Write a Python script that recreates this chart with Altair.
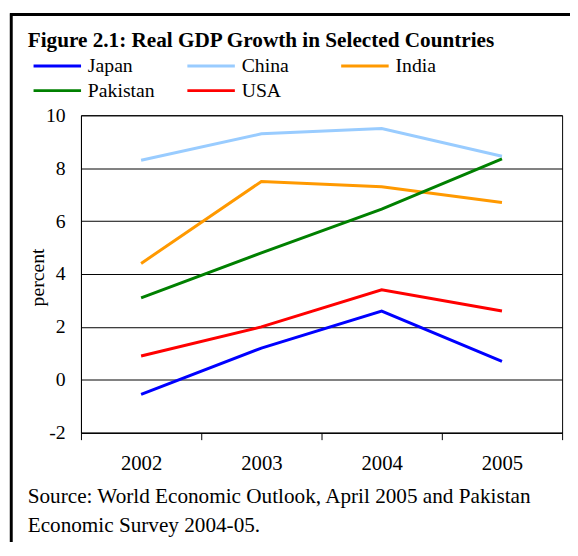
import altair as alt
import pandas as pd

years = ["2002", "2003", "2004", "2005"]
countries = ["Japan", "China", "India", "Pakistan", "USA"]
japan = [-0.55, 1.2, 2.6, 0.7]
china = [8.3, 9.3, 9.5, 8.45]
india = [4.4, 7.5, 7.3, 6.7]
pakistan = [3.1, 4.8, 6.45, 8.35]
usa = [0.9, 2.0, 3.4, 2.6]
colors = ["#0000FF", "#99CCFF", "#FF9900", "#008000", "#FF0000"]
y_ticks = [-2, 0, 2, 4, 6, 8, 10]
title_text = "Figure 2.1: Real GDP Growth in Selected Countries"
source_lines = ["Source: World Economic Outlook, April 2005 and Pakistan",
                "Economic Survey 2004-05."]

FONT = "Liberation Serif"

series = [japan, china, india, pakistan, usa]
rows = []
for c, vals in zip(countries, series):
    for yr, v in zip(years, vals):
        rows.append({"country": c, "year": yr, "value": v})
df = pd.DataFrame(rows)

lines = alt.Chart(df).mark_line(strokeWidth=3).encode(
    x=alt.X("year:O",
            scale=alt.Scale(type="band", paddingInner=0, paddingOuter=0),
            bandPosition=0.5,
            axis=alt.Axis(title=None, tickBand="extent", tickSize=7,
                          tickColor="black", domainColor="black",
                          labelFont=FONT, labelFontSize=21, labelColor="black",
                          labelAngle=0, labelBaseline="alphabetic",
                          labelPadding=30, grid=False)),
    y=alt.Y("value:Q",
            scale=alt.Scale(domain=[-2, 10], nice=False, zero=False),
            axis=alt.Axis(values=y_ticks, title="percent", titleFont=FONT,
                          titleFontSize=20, titleFontWeight="normal",
                          titleColor="black", titleX=-38, titleY=164,
                          titleBaseline="alphabetic", titleAlign="center",
                          titleAngle=270,
                          labelExpr="'' + datum.value",
                          grid=True, gridColor="black", gridOpacity=1,
                          gridWidth=1, tickSize=0, domainColor="black",
                          labelFont=FONT, labelFontSize=20, labelColor="black",
                          labelPadding=16)),
    color=alt.Color("country:N",
                    scale=alt.Scale(domain=countries, range=colors),
                    sort=countries,
                    legend=alt.Legend(title=None, orient="none",
                                      legendX=-34, legendY=-60,
                                      direction="horizontal", columns=3,
                                      symbolType="M-4,0H4", symbolSize=145,
                                      symbolStrokeWidth=3,
                                      labelFont=FONT, labelFontSize=20,
                                      labelColor="black", labelOffset=21,
                                      columnPadding=26, rowPadding=5,
                                      gridAlign="all", padding=0)),
)

title = alt.Chart(pd.DataFrame({"t": [title_text]})).mark_text(
    font=FONT, fontSize=21.5, fontWeight="bold", align="left",
    baseline="alphabetic", color="black"
).encode(text="t:N", x=alt.value(-54), y=alt.value(-69))

source = alt.Chart(pd.DataFrame({"t": [source_lines[0]]})).mark_text(
    font=FONT, fontSize=21.5, align="left", baseline="alphabetic",
    color="black", lineHeight=29, text=source_lines
).encode(x=alt.value(-54), y=alt.value(393.5))

border_top = alt.Chart(pd.DataFrame({"a": [0]})).mark_rule(
    color="black", strokeWidth=3
).encode(x=alt.value(-72), x2=alt.value(500), y=alt.value(-102.3))

border_left = alt.Chart(pd.DataFrame({"a": [0]})).mark_rule(
    color="black", strokeWidth=3
).encode(x=alt.value(-70.7), y=alt.value(-103.5), y2=alt.value(460))

chart = alt.layer(lines, title, source, border_top, border_left).properties(
    width=488, height=322,
    autosize=alt.AutoSizeParams(type="none"),
    padding={"left": 74, "top": 105, "right": 8, "bottom": 107},
    background="white",
).configure(font=FONT).configure_axis(
    labelFont=FONT, titleFont=FONT
).configure_legend(labelFont=FONT).configure_view(stroke="black", strokeWidth=1)

chart.save("out.html", embed_options={"renderer": "svg", "actions": False})
